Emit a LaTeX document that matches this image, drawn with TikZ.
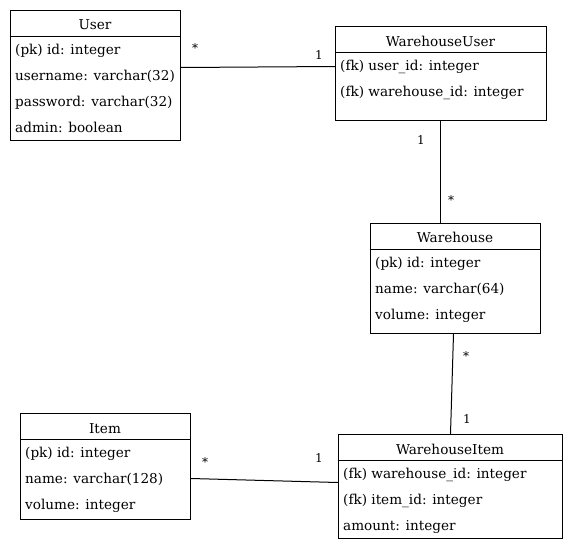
\documentclass[tikz,border=0pt]{standalone}
\usepackage{fontspec}
\setmainfont{DejaVu Serif}
\begin{document}
\begin{tikzpicture}[x=1pt,y=-1pt,
  box/.style={draw, line width=1pt, anchor=north west, inner sep=0pt},
  hdr/.style={line width=1pt},
  title/.style={font=\fontsize{13.6}{15}\selectfont, anchor=base, inner sep=0pt, yshift=-5pt},
  attr/.style={font=\fontsize{13.6}{15}\selectfont, anchor=base west, inner sep=0pt, yshift=-5pt},
  lbl/.style={font=\fontsize{12}{14}\selectfont, anchor=center, inner sep=0pt},
  conn/.style={line width=1pt}]
\useasboundingbox (0,0) rectangle (572,554);
% User
\node[box, minimum width=170pt, minimum height=130pt] (user) at (10,10) {};
\draw[hdr] (10,36) -- (180,36);
\node[title] (userT) at (95,24) {User};
\node[attr] (u1) at (15,49) {(pk) id: integer};
\node[attr] (u2) at (15,75) {username: varchar(32)};
\node[attr] (u3) at (15,101) {password: varchar(32)};
\node[attr] (u4) at (15,127) {admin: boolean};
% WarehouseUser
\node[box, minimum width=211pt, minimum height=94pt] (wu) at (335,26) {};
\draw[hdr] (335,52) -- (546,52);
\node[title] (wuT) at (440.5,41) {WarehouseUser};
\node[attr] (wu1) at (340,65) {(fk) user\_id: integer};
\node[attr] (wu2) at (340,91) {(fk) warehouse\_id: integer};
% Warehouse
\node[box, minimum width=170pt, minimum height=110pt] (wh) at (370,223) {};
\draw[hdr] (370,249) -- (540,249);
\node[title] (whT) at (455,237) {Warehouse};
\node[attr] (wh1) at (375,262) {(pk) id: integer};
\node[attr] (wh2) at (375,288) {name: varchar(64)};
\node[attr] (wh3) at (375,314) {volume: integer};
% Item
\node[box, minimum width=170pt, minimum height=106pt] (item) at (20,413) {};
\draw[hdr] (20,439) -- (190,439);
\node[title] (itemT) at (105,428) {Item};
\node[attr] (i1) at (25,452) {(pk) id: integer};
\node[attr] (i2) at (25,478) {name: varchar(128)};
\node[attr] (i3) at (25,504) {volume: integer};
% WarehouseItem
\node[box, minimum width=224pt, minimum height=104pt] (wi) at (338,434) {};
\draw[hdr] (338,460) -- (562,460);
\node[title] (wiT) at (450,449) {WarehouseItem};
\node[attr] (wi1) at (343,473) {(fk) warehouse\_id: integer};
\node[attr] (wi2) at (343,499) {(fk) item\_id: integer};
\node[attr] (wi3) at (343,525) {amount: integer};
% connectors
\draw[conn] ([yshift=8pt]user.east) -- ([yshift=7pt]wu.west);
\draw[conn] ([xshift=-0.5pt]wu.south) -- ([xshift=-15pt]wh.north);
\draw[conn] ([xshift=-2pt]wh.south) -- (wi.north);
\draw[conn] ([yshift=-12pt]item.east) -- ([yshift=4pt]wi.west);
% labels
\node[lbl] (l1) at (195,48) {*};
\node[lbl] (l2) at (319,55) {1};
\node[lbl] (l3) at (421,140) {1};
\node[lbl] (l4) at (451,200) {*};
\node[lbl] (l5) at (466,356) {*};
\node[lbl] (l6) at (467,419) {1};
\node[lbl] (l7) at (205,462) {*};
\node[lbl] (l8) at (319,458) {1};
\end{tikzpicture}
\end{document}
